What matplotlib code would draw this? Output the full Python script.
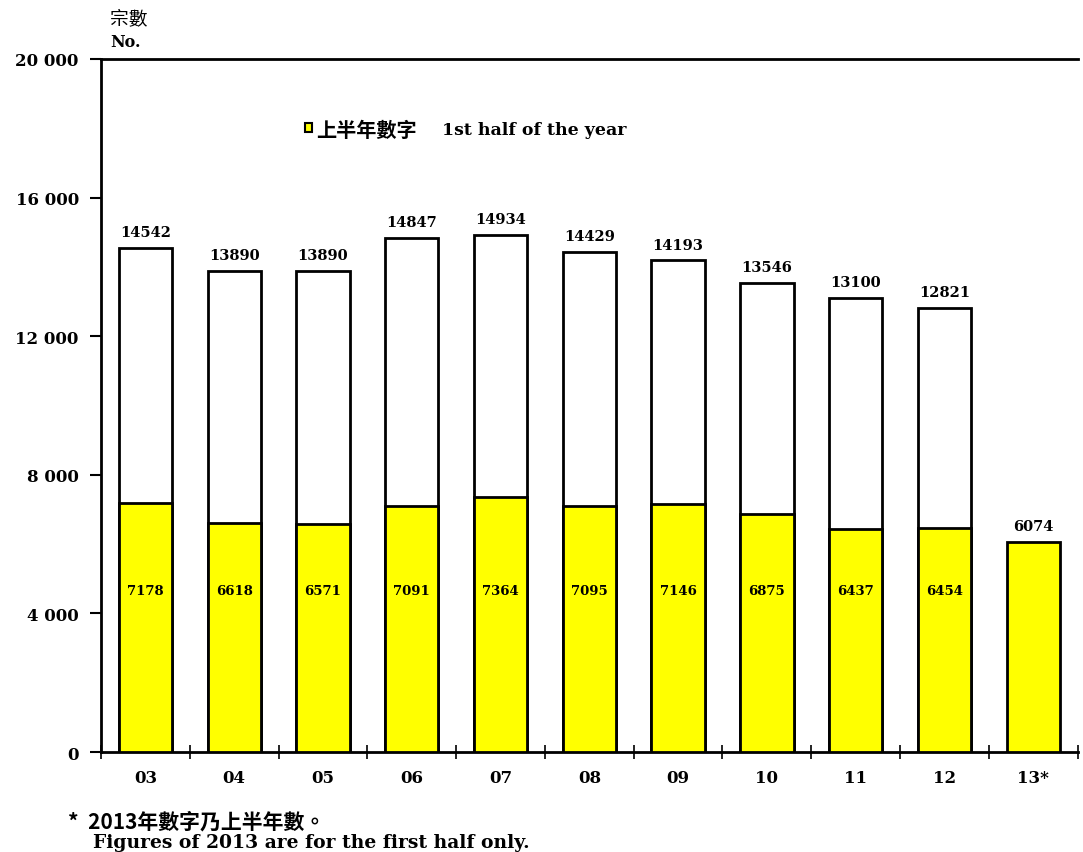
import matplotlib
matplotlib.use("Agg")
import matplotlib.pyplot as plt
import numpy as np

categories = ["03", "04", "05", "06", "07", "08", "09", "10", "11", "12", "13*"]
full_year = [14542, 13890, 13890, 14847, 14934, 14429, 14193, 13546, 13100, 12821]
first_half = [7178, 6618, 6571, 7091, 7364, 7095, 7146, 6875, 6437, 6454, 6074]
yticks = [0, 4000, 8000, 12000, 16000, 20000]
ytick_labels = ["0", "4 000", "8 000", "12 000", "16 000", "20 000"]

SERIF = ["DejaVu Serif", "Noto Sans CJK TC", "DejaVu Sans"]
CJK = ["Noto Sans CJK TC", "DejaVu Serif", "DejaVu Sans"]

fig = plt.figure(figsize=(10.83, 8.53), dpi=100)
ax = fig.add_axes([0.0933, 0.1172, 0.9017, 0.8125])

x = np.arange(len(categories))
w = 0.6
ax.bar(x[:len(full_year)], full_year, width=w, color="white", edgecolor="black", linewidth=2, zorder=2)
ax.bar(x, first_half, width=w, color="#FFFF00", edgecolor="black", linewidth=2, zorder=3)

for xi, v in zip(x, full_year):
    ax.text(xi, v + 250, str(v), ha="center", va="bottom", fontsize=10.5,
            fontweight="bold", family=SERIF, zorder=4)
for xi, v in zip(x[:len(full_year)], first_half):
    ax.text(xi, 4650, str(v), ha="center", va="center", fontsize=9.5,
            fontweight="bold", family=SERIF, zorder=4)
ax.text(x[-1], first_half[-1] + 250, str(first_half[-1]), ha="center", va="bottom",
        fontsize=10.5, fontweight="bold", family=SERIF, zorder=4)

ax.set_xlim(-0.5, len(categories) - 0.5)
ax.set_ylim(0, 20000)
ax.set_yticks(yticks)
ax.set_yticklabels(ytick_labels, fontsize=12, fontweight="bold", family=SERIF)
ax.set_xticks(x)
ax.set_xticklabels(categories, fontsize=12, fontweight="bold", family=SERIF)
ax.tick_params(axis="x", which="major", length=0, pad=12)
ax.set_xticks(np.arange(-0.5, len(categories) - 0.4, 1), minor=True)
ax.tick_params(axis="x", which="minor", direction="inout", length=10, width=1.2)
ax.tick_params(axis="y", direction="out", length=8, width=1.5, pad=8)

for s in ["left", "bottom", "top"]:
    ax.spines[s].set_linewidth(2)
ax.spines["right"].set_visible(False)

# legend
ax.add_patch(plt.Rectangle((0.2085, 0.894), 0.008, 0.014, transform=ax.transAxes,
                           facecolor="#FFFF00", edgecolor="black", linewidth=1.5, zorder=5))
fig.text(0.292, 0.847, "上半年數字", fontsize=14.5, fontweight="bold", family=CJK, va="center")
fig.text(0.408, 0.847, "1st half of the year", fontsize=12.5, fontweight="bold", family=SERIF, va="center")

# axis unit labels
fig.text(0.102, 0.978, "宗數", fontsize=13.5, family=CJK, va="center")
fig.text(0.102, 0.950, "No.", fontsize=11.5, fontweight="bold", family=SERIF, va="center")

# footnote
fig.text(0.063, 0.036, "*  2013年數字乃上半年數。", fontsize=15, fontweight="bold", family=CJK, va="center")
fig.text(0.086, 0.012, "Figures of 2013 are for the first half only.", fontsize=13.5,
         fontweight="bold", family=SERIF, va="center")

fig.savefig("out.png", dpi=100)
